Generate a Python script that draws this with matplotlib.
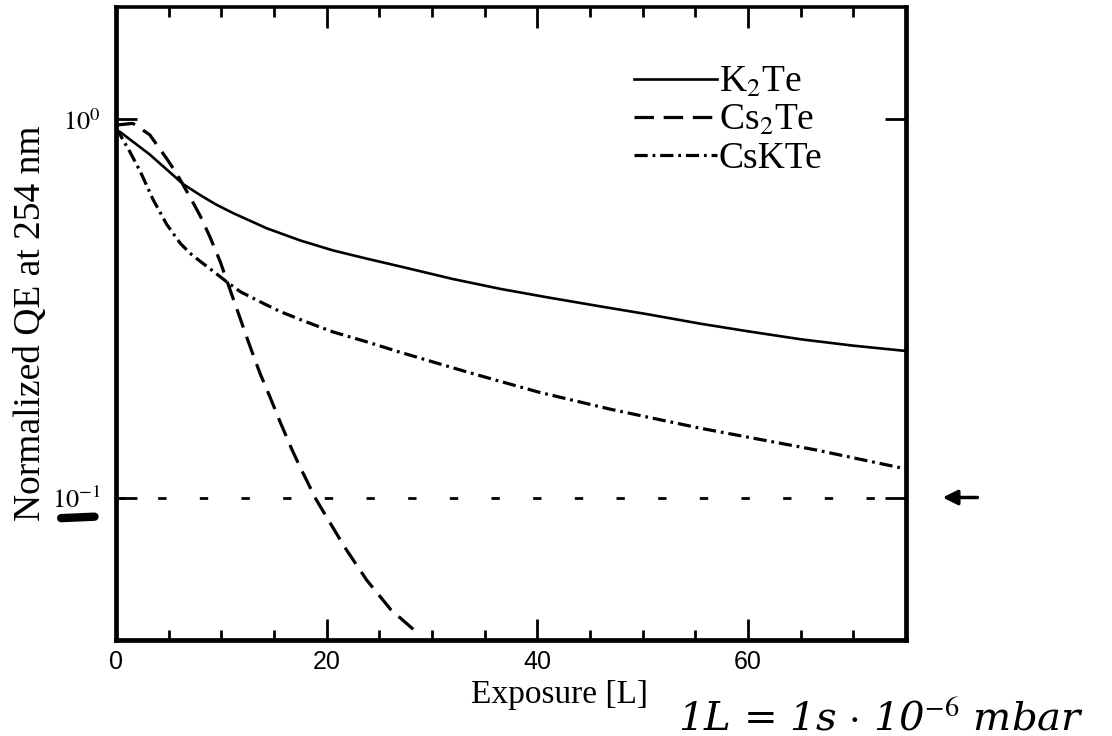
import numpy as np
import matplotlib.pyplot as plt

plt.rcParams['font.family'] = ['Liberation Serif', 'DejaVu Serif']
plt.rcParams['mathtext.fontset'] = 'stix'
plt.rcParams['lines.scale_dashes'] = False

# values (exposure in L, normalized QE)
k2te_x = [0, 0.4, 3.2, 6.4, 8.0, 9.5, 11.1, 14.3, 17.5, 20.6, 23.8, 27, 32, 36.5, 41, 46, 50.5,
          55.5, 60, 65, 70, 75]
k2te_y = [0.93, 0.925, 0.807, 0.673, 0.630, 0.595, 0.565, 0.515, 0.478, 0.450, 0.428, 0.408,
          0.378, 0.356, 0.338, 0.320, 0.305, 0.288, 0.275, 0.262, 0.252, 0.244]

cs2te_x = [0, 1.6, 3.2, 4.8, 5.8, 7.0, 8.0, 8.9, 9.9, 10.8, 11.8, 12.7, 13.7, 14.6, 15.6, 16.7,
           17.5, 19.0, 21.7, 23.8, 26.1, 28.4]
cs2te_y = [0.965, 0.975, 0.91, 0.788, 0.715, 0.625, 0.555, 0.490, 0.420, 0.356, 0.297, 0.252,
           0.212, 0.185, 0.158, 0.134, 0.120, 0.0988, 0.074, 0.0605, 0.0505, 0.0444]

cskte_x = [0, 1.3, 2.3, 3.5, 4.8, 6.1, 7.0, 8.0, 9.2, 10.5, 11.8, 13.7, 15.6, 18.1, 20.6, 23.8,
           27, 33.5, 40.1, 47, 55.2, 60.5, 66.5, 75]
cskte_y = [0.95, 0.822, 0.728, 0.615, 0.528, 0.470, 0.443, 0.421, 0.397, 0.372, 0.350, 0.329,
           0.310, 0.291, 0.274, 0.258, 0.242, 0.214, 0.190, 0.171, 0.153, 0.1435, 0.1335, 0.119]

ref_level = 0.1

fig = plt.figure(figsize=(11.12, 7.36), dpi=100)
ax = fig.add_axes([0.1043, 0.1304, 0.7104, 0.8601])

ax.plot(k2te_x, k2te_y, color='black', lw=1.9, label='K$_2$Te')
ax.plot(cs2te_x, cs2te_y, color='black', lw=2.3, dashes=(14, 7), label='Cs$_2$Te')
ax.plot(cskte_x, cskte_y, color='black', lw=2.3, dashes=(9.5, 3.5, 2, 3.5), label='CsKTe')
ax.axhline(ref_level, color='black', lw=2, dashes=(6, 24))

ax.set_yscale('log')
ax.set_xlim(0, 75)
ax.set_ylim(0.042, 1.98)
ax.set_xticks([0, 20, 40, 60])
ax.set_xticks(np.arange(5, 75, 5), minor=True)
ax.set_yticks([1, 0.1])
ax.set_yticklabels(['$10^0$', '$10^{-1}$'])
ax.yaxis.set_minor_locator(plt.NullLocator())

ax.tick_params(axis='both', which='both', direction='in', top=True, right=True, width=2)
ax.tick_params(axis='x', which='major', length=15, pad=7, labelsize=18)
ax.tick_params(axis='x', which='minor', length=7)
ax.tick_params(axis='y', which='major', length=15, pad=11, labelsize=19)
for lab in ax.get_xticklabels():
    lab.set_family('Liberation Sans')

for side in ['left', 'bottom', 'right']:
    ax.spines[side].set_linewidth(3.4)
ax.spines['top'].set_linewidth(2.6)

ax.set_xlabel('Exposure [L]', fontsize=24)
ax.xaxis.set_label_coords(0.562, -0.062)
ax.set_ylabel('Normalized QE at 254 nm', fontsize=27, labelpad=3)

leg = ax.legend(loc='upper right', bbox_to_anchor=(0.894, 0.908), frameon=False,
                fontsize=27, handlelength=2.2, handletextpad=0.05, labelspacing=0.1,
                borderaxespad=0, borderpad=0)

# handwritten notes on the scan
fig.text(0.61, 0.008, r'1L = 1s $\cdot$ 10$^{-6}$ mbar', fontsize=29, style='italic',
         family='DejaVu Serif', va='baseline')
ax.annotate('', xy=(1.043, ref_level), xycoords=('axes fraction', 'data'),
            xytext=(1.094, ref_level), textcoords=('axes fraction', 'data'),
            arrowprops=dict(arrowstyle='-|>', color='black', lw=2.5, mutation_scale=22),
            annotation_clip=False)
fig.add_artist(plt.Line2D([0.055, 0.085], [0.296, 0.298], color='black', lw=6,
                          solid_capstyle='round'))

fig.savefig('out.png', dpi=100)
